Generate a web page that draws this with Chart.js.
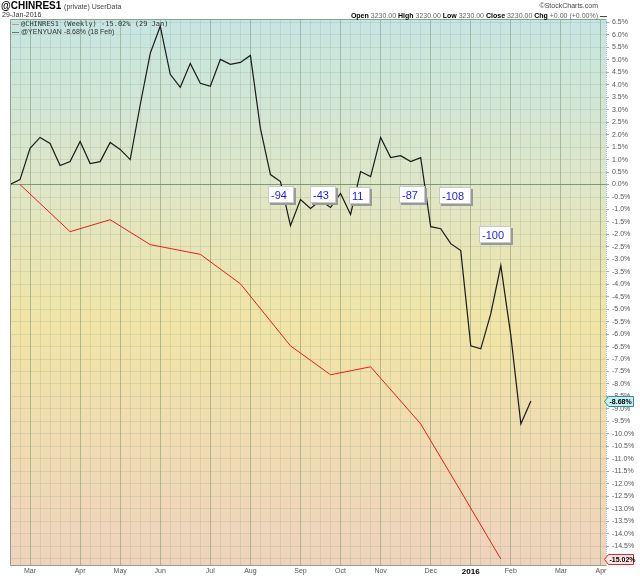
<!DOCTYPE html>
<html>
<head>
<meta charset="utf-8">
<script src="https://cdn.jsdelivr.net/npm/chart.js@4.4.1/dist/chart.umd.min.js"></script>
<style>
  html, body { margin: 0; padding: 0; background: #fff; }
  #wrap { position: relative; width: 640px; height: 576px; font-family: 'Liberation Sans', Arial, sans-serif; }
  #chart { position: absolute; left: 0; top: 0; }
  .t { position: absolute; white-space: nowrap; line-height: 1; }
  .g { color: #666; font-weight: normal; }
</style>
</head>
<body>
<div id="wrap">
  <canvas id="chart" width="640" height="576"></canvas>
  <div class="t" style="left:1px;top:1px;font-size:10px;font-weight:bold">@CHINRES1 <span class="g" style="font-size:7px;color:#444">(private) UserData</span></div>
  <div class="t" style="left:2px;top:11px;font-size:7px;color:#333">29-Jan-2016</div>
  <div class="t" style="right:42px;top:2px;font-size:7px;color:#444">&copy;StockCharts.com</div>
  <div class="t" style="right:33px;top:12px;font-size:7px;font-weight:bold">Open <span class="g">3230.00</span> High <span class="g">3230.00</span> Low <span class="g">3230.00</span> Close <span class="g">3230.00</span> Chg <span class="g">+0.00 (+0.00%)</span> &mdash;</div>
  <div class="t" style="left:12px;top:20px;font-size:7px;line-height:7px;color:#333">
    <div><span style="color:#e33">&mdash;</span> <span style="font-family:'DejaVu Sans Mono',monospace">@CHINRES1 (Weekly) -15.02% (29 Jan)</span></div>
    <div><span style="color:#000">&mdash;</span> @YENYUAN -8.68% (18 Feb)</div>
  </div>
</div>
<script>
// weekly x index: 0 = week of 20 Feb 2015
const yenValues = [0, 0.2, 1.45, 1.89, 1.65, 0.76, 0.92, 1.73, 0.84, 0.92, 1.69, 1.41, 1.0, 3.2,
  5.26, 6.35, 4.42, 3.9, 4.86, 4.06, 3.94, 5.02, 4.82, 4.9, 5.18, 2.25, 0.4, 0.12, -1.65, -0.6,
  -0.96, -0.64, -0.92, -0.36, -1.2, 0.52, 0.32, 1.89, 1.08, 1.16, 0.92, 1.08, -1.69, -1.77, -2.37,
  -2.65, -6.47, -6.59, -5.18, -3.25, -6.06, -9.6, -8.68]

const chinWeeks = [1, 6, 10, 14, 19, 23, 28, 32, 36, 41, 45, 49]
const chinValues = [0, -1.89, -1.41, -2.41, -2.8, -3.98, -6.47, -7.63, -7.31, -9.6, -12.3, -15.02]

const monthWeeks = [2, 7, 11, 15, 20, 24, 29, 33, 37, 42, 46, 50, 55, 59]
const monthLabels = ['Mar', 'Apr', 'May', 'Jun', 'Jul', 'Aug', 'Sep', 'Oct', 'Nov', 'Dec', '2016', 'Feb', 'Mar', 'Apr']

const yTicks = []
for (let v = -15; v <= 6.5; v += 0.5) yTicks.push(Math.round(v * 10) / 10)

// boxed notes: text, week at left edge, value at top edge
const noteTexts = ['-94', '-43', '11', '-87', '-108', '-100']
const noteWeeks = [25.8, 29.9, 33.8, 38.8, 42.8, 46.8]
const noteTops = [-0.04, -0.04, -0.08, -0.04, -0.08, -1.65]

const lastYen = yenValues[yenValues.length - 1]
const lastChin = chinValues[chinValues.length - 1]

const backgroundPlugin = {
  id: 'background',
  beforeDraw (chart) {
    const { ctx, chartArea: a } = chart
    ctx.save()
    ctx.fillStyle = '#fff'
    ctx.fillRect(0, 0, chart.width, chart.height)
    const g = ctx.createLinearGradient(0, a.top, 0, a.bottom)
    g.addColorStop(0, '#c5e6e2')
    g.addColorStop(0.3, '#dfe6c8')
    g.addColorStop(0.55, '#f1e5a6')
    g.addColorStop(1, '#efd3bd')
    ctx.fillStyle = g
    ctx.fillRect(a.left, a.top, a.right - a.left, a.bottom - a.top)
    ctx.restore()
  },
  afterDraw (chart) {
    const { ctx, chartArea: a } = chart
    ctx.save()
    ctx.lineWidth = 1
    ctx.strokeStyle = '#8f9f95'
    ctx.beginPath()
    ctx.moveTo(a.right, a.top + 0.5)
    ctx.lineTo(a.left + 0.5, a.top + 0.5)
    ctx.lineTo(a.left + 0.5, a.bottom + 0.5)
    ctx.lineTo(a.right, a.bottom + 0.5)
    ctx.stroke()
    ctx.strokeStyle = '#9fbccc'
    ctx.setLineDash([1, 1])
    ctx.beginPath()
    ctx.moveTo(a.right + 0.5, a.top)
    ctx.lineTo(a.right + 0.5, a.bottom + 1)
    ctx.stroke()
    ctx.restore()
  }
}

const notesPlugin = {
  id: 'notes',
  afterDatasetsDraw (chart) {
    const { ctx, scales } = chart
    ctx.save()
    ctx.font = '11px "Liberation Sans", Arial, sans-serif'
    ctx.textBaseline = 'middle'
    noteTexts.forEach((txt, i) => {
      const x = Math.round(scales.x.getPixelForValue(noteWeeks[i]))
      const y = Math.round(scales.y.getPixelForValue(noteTops[i]))
      const w = Math.round(ctx.measureText(txt).width) + 10
      const h = 17
      ctx.fillStyle = '#9a9a9a'
      ctx.fillRect(x + 2, y + 2, w, h)
      ctx.fillStyle = '#fff'
      ctx.fillRect(x, y, w, h)
      ctx.strokeStyle = '#c8c8c8'
      ctx.strokeRect(x + 0.5, y + 0.5, w - 1, h - 1)
      ctx.fillStyle = '#1a1af0'
      ctx.fillText(txt, x + 3, y + h / 2 + 1)
    })
    ctx.restore()
  },
  afterDraw (chart) {
    const { ctx, scales, chartArea: a } = chart
    const tags = [
      { v: lastYen, bg: '#c4f0f0', line: '#3f8a8a' },
      { v: lastChin, bg: '#ffe6e6', line: '#e02828' }
    ]
    ctx.save()
    ctx.font = 'bold 7px "Liberation Sans", Arial, sans-serif'
    ctx.textBaseline = 'middle'
    tags.forEach(t => {
      const y = Math.round(scales.y.getPixelForValue(t.v)) + 0.5
      const x = a.right + 0.5
      const w = 27
      ctx.beginPath()
      ctx.moveTo(x - 2, y)
      ctx.lineTo(x + 2, y - 5)
      ctx.lineTo(x + w, y - 5)
      ctx.lineTo(x + w, y + 5)
      ctx.lineTo(x + 2, y + 5)
      ctx.closePath()
      ctx.fillStyle = t.bg
      ctx.fill()
      ctx.strokeStyle = t.line
      ctx.stroke()
      ctx.fillStyle = '#000'
      ctx.fillText(t.v.toFixed(2) + '%', x + 3, y + 0.5)
    })
    ctx.restore()
  }
}

const ctx = document.getElementById('chart').getContext('2d')
new Chart(ctx, {
  type: 'line',
  data: {
    datasets: [
      {
        label: '@CHINRES1',
        data: chinWeeks.map((w, i) => ({ x: w, y: chinValues[i] })),
        borderColor: '#ee1c1c',
        borderWidth: 1,
        pointRadius: 0,
        tension: 0
      },
      {
        label: '@YENYUAN',
        data: yenValues.map((v, i) => ({ x: i, y: v })),
        borderColor: '#1a1a1a',
        borderWidth: 1.2,
        pointRadius: 0,
        tension: 0
      }
    ]
  },
  options: {
    responsive: false,
    animation: false,
    events: [],
    layout: { padding: { top: 19, left: 10, right: 0, bottom: 0 } },
    plugins: { legend: { display: false }, tooltip: { enabled: false } },
    scales: {
      x: {
        type: 'linear',
        min: 0,
        max: 59.5,
        afterBuildTicks (scale) {
          const t = []
          for (let i = 0; i <= 59; i++) t.push({ value: i })
          scale.ticks = t
        },
        afterFit (scale) { scale.height = 11 },
        ticks: {
          autoSkip: false,
          maxRotation: 0,
          padding: 2,
          callback (v) {
            const k = monthWeeks.indexOf(v)
            return k >= 0 ? monthLabels[k] : ''
          },
          color (c) { return c.tick && c.tick.label === '2016' ? '#000' : '#555' },
          font (c) {
            const bold = c.tick && c.tick.label === '2016'
            return { family: 'Liberation Sans', size: bold ? 8 : 7, weight: bold ? 'bold' : 'normal' }
          }
        },
        grid: {
          drawTicks: false,
          color (c) {
            return monthWeeks.includes(c.tick.value) ? 'rgba(125,150,115,0.55)' : 'rgba(130,160,135,0.22)'
          }
        },
        border: { display: false }
      },
      y: {
        type: 'linear',
        position: 'right',
        min: -15.26,
        max: 6.64,
        afterBuildTicks (scale) {
          scale.ticks = yTicks.map(v => ({ value: v }))
        },
        afterFit (scale) { scale.width = 34 },
        ticks: {
          padding: 3,
          color: '#555',
          font: { family: 'Liberation Sans', size: 7 },
          callback (v) { return v.toFixed(1) + '%' }
        },
        grid: {
          tickLength: 3,
          tickColor: '#8fb0c0',
          color (c) {
            return c.tick.value === 0 ? '#7d9876' : 'rgba(130,160,135,0.22)'
          }
        },
        border: { display: false }
      }
    }
  },
  plugins: [backgroundPlugin, notesPlugin]
})
</script>
</body>
</html>
